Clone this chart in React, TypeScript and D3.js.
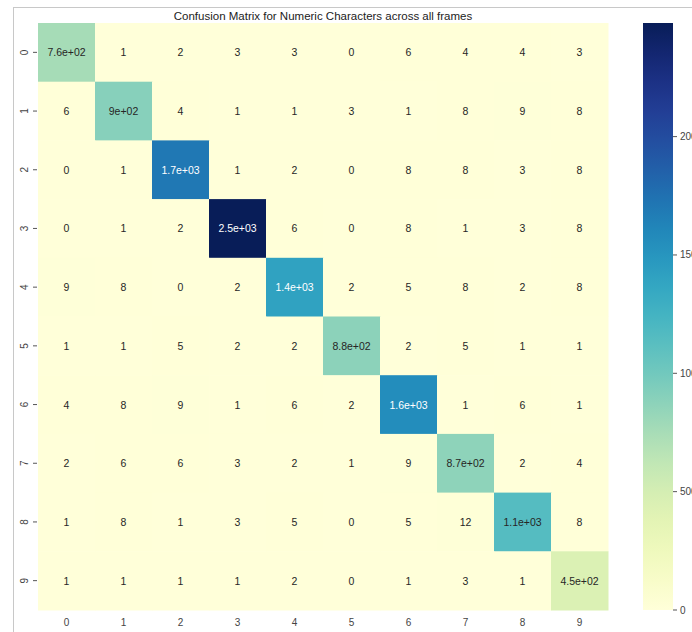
import React from "react";
import * as d3 from "d3";

const TITLE = "Confusion Matrix for Numeric Characters across all frames";
const rowLabels = ["0", "1", "2", "3", "4", "5", "6", "7", "8", "9"];
const colLabels = ["0", "1", "2", "3", "4", "5", "6", "7", "8", "9"];

const row0 = [760, 1, 2, 3, 3, 0, 6, 4, 4, 3];
const row1 = [6, 900, 4, 1, 1, 3, 1, 8, 9, 8];
const row2 = [0, 1, 1700, 1, 2, 0, 8, 8, 3, 8];
const row3 = [0, 1, 2, 2480, 6, 0, 8, 1, 3, 8];
const row4 = [9, 8, 0, 2, 1400, 2, 5, 8, 2, 8];
const row5 = [1, 1, 5, 2, 2, 880, 2, 5, 1, 1];
const row6 = [4, 8, 9, 1, 6, 2, 1560, 1, 6, 1];
const row7 = [2, 6, 6, 3, 2, 1, 9, 870, 2, 4];
const row8 = [1, 8, 1, 3, 5, 0, 5, 12, 1149, 8];
const row9 = [1, 1, 1, 1, 2, 0, 1, 3, 1, 450];
const matrix = [row0, row1, row2, row3, row4, row5, row6, row7, row8, row9];

const colorbarTicks = [0, 500, 1000, 1500, 2000];

const W = 692;
const H = 632;
const FONT = "'Liberation Sans', Arial, sans-serif";

function fmt2g(v: number): string {
  if (v < 100) return String(v);
  const s = v.toPrecision(2);
  const m = s.match(/^([\d.]+)e([+-])(\d+)$/);
  if (!m) return s;
  let mant = m[1];
  if (mant.includes(".")) mant = mant.replace(/0+$/, "").replace(/\.$/, "");
  const exp = m[3].padStart(2, "0");
  return `${mant}e${m[2]}${exp}`;
}

function lum(c: string): number {
  const rgb = d3.rgb(c);
  const f = (x: number) => {
    const v = x / 255;
    return v <= 0.03928 ? v / 12.92 : Math.pow((v + 0.055) / 1.055, 2.4);
  };
  return 0.2126 * f(rgb.r) + 0.7152 * f(rgb.g) + 0.0722 * f(rgb.b);
}

export default function App() {
  const left = 38, right = 608, top = 23, bottom = 610;
  const vmax = d3.max(matrix.flat()) as number;
  const color = d3.scaleSequential(d3.interpolateYlGnBu).domain([0, vmax]);
  const x = d3.scaleBand<string>().domain(colLabels).range([left, right]);
  const y = d3.scaleBand<string>().domain(rowLabels).range([top, bottom]);

  const cbX = 643, cbW = 30;
  const cbY = d3.scaleLinear().domain([0, vmax]).range([bottom, top]);
  const stops = d3.range(0, 1.0001, 0.05);

  return (
    <svg
      width={W}
      height={H}
      style={{ position: "absolute", left: 0, top: 0, background: "#fff" }}
      fontFamily={FONT}
    >
      <defs>
        <linearGradient id="cbgrad" x1="0" y1="1" x2="0" y2="0">
          {stops.map((t, i) => (
            <stop key={i} offset={t} stopColor={d3.interpolateYlGnBu(t)} />
          ))}
        </linearGradient>
      </defs>
      <line x1={13} y1={7.5} x2={W} y2={7.5} stroke="#c8c8c8" />
      <line x1={13.5} y1={7} x2={13.5} y2={H} stroke="#c8c8c8" />
      <text x={(left + right) / 2} y={20} textAnchor="middle" fontSize={11.5} fill="#222">
        {TITLE}
      </text>
      {matrix.map((row, ri) =>
        row.map((v, ci) => {
          const c = color(v);
          const tc = lum(c) > 0.408 ? "#262626" : "#ffffff";
          const cx = x(colLabels[ci]) as number;
          const cy = y(rowLabels[ri]) as number;
          return (
            <g key={`${ri}-${ci}`}>
              <rect x={cx} y={cy} width={x.bandwidth() + 0.5} height={y.bandwidth() + 0.5} fill={c} />
              <text
                x={cx + x.bandwidth() / 2}
                y={cy + y.bandwidth() / 2}
                textAnchor="middle"
                dominantBaseline="central"
                fontSize={10.5}
                fill={tc}
              >
                {fmt2g(v)}
              </text>
            </g>
          );
        })
      )}
      {rowLabels.map((r) => {
        const cy = (y(r) as number) + y.bandwidth() / 2;
        return (
          <g key={`yl-${r}`}>
            <line x1={33} x2={37} y1={cy} y2={cy} stroke="#555" />
            <text
              transform={`translate(28,${cy}) rotate(-90)`}
              textAnchor="middle"
              fontSize={10}
              fill="#444"
            >
              {r}
            </text>
          </g>
        );
      })}
      {colLabels.map((c) => {
        const cx = (x(c) as number) + x.bandwidth() / 2;
        return (
          <text key={`xl-${c}`} x={cx} y={626} textAnchor="middle" fontSize={10} fill="#444">
            {c}
          </text>
        );
      })}
      <rect x={cbX} y={top} width={cbW} height={bottom - top} fill="url(#cbgrad)" />
      {colorbarTicks.map((t) => (
        <g key={`cb-${t}`}>
          <line x1={cbX + cbW} x2={cbX + cbW + 4} y1={cbY(t)} y2={cbY(t)} stroke="#555" />
          <text x={cbX + cbW + 7} y={cbY(t)} dominantBaseline="central" fontSize={10} fill="#444">
            {t}
          </text>
        </g>
      ))}
    </svg>
  );
}
